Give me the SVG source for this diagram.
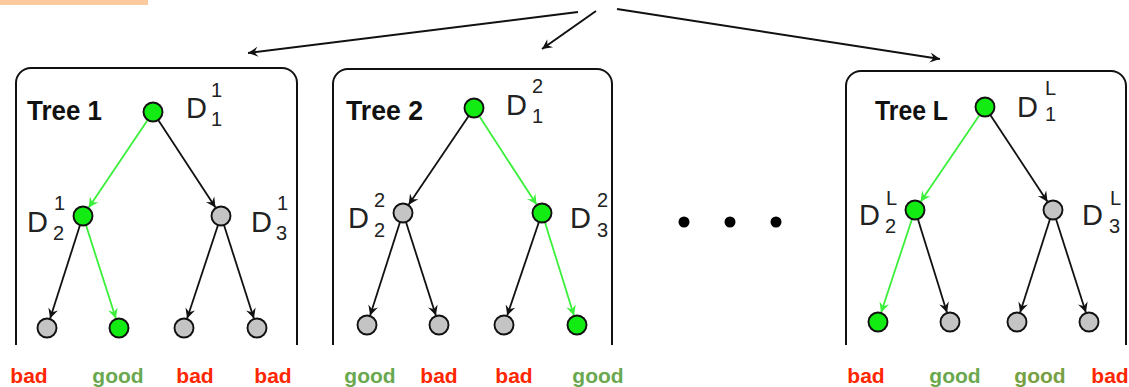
<svg xmlns="http://www.w3.org/2000/svg" width="1129" height="387" viewBox="0 0 1129 387">
  <style>
    .box { fill: none; stroke: #111; stroke-width: 2; }
    .node { stroke: #111; stroke-width: 1.9; }
    .on { fill: #12ec12; }
    .off { fill: #c4c4c4; }
    .edge { fill: none; stroke: #111; stroke-width: 1.8; marker-end: url(#arrowK); }
    .edge.hot { stroke: #3af03a; marker-end: url(#arrowG); }
    .top { fill: none; stroke: #111; stroke-width: 2; marker-end: url(#arrowK); }
    .title { font-family: "Liberation Sans", Arial, sans-serif; font-weight: bold; font-size: 27px; fill: #111; }
    .d { font-family: "Liberation Sans", Arial, sans-serif; font-size: 29px; fill: #222; }
    .s { font-family: "Liberation Sans", Arial, sans-serif; font-size: 20px; fill: #222; }
    .res { font-family: "Liberation Sans", Arial, sans-serif; font-weight: bold; font-size: 21px; text-anchor: middle; }
    .bad { fill: #ff2600; }
    .good { fill: #6aa84f; }
  </style>
  <defs>
    <marker id="arrowK" viewBox="-11 -6 12 12" refX="0" refY="0" markerWidth="12" markerHeight="12" markerUnits="userSpaceOnUse" orient="auto">
      <path d="M0,0 L-10,-5 L-6.5,0 L-10,5 Z" fill="#111"/>
    </marker>
    <marker id="arrowG" viewBox="-11 -6 12 12" refX="0" refY="0" markerWidth="12" markerHeight="12" markerUnits="userSpaceOnUse" orient="auto">
      <path d="M0,0 L-10,-5 L-6.5,0 L-10,5 Z" fill="#3af03a"/>
    </marker>
  </defs>

  <rect x="0" y="0" width="148" height="5" fill="#fdc99f"/>

  <!-- connectors -->
  <g id="connectors">
    <line class="top" x1="578" y1="12" x2="248" y2="53"/>
    <line class="top" x1="596" y1="11" x2="542" y2="49"/>
    <line class="top" x1="617" y1="9" x2="940" y2="59"/>

    <!-- tree 1 -->
    <line class="edge hot" x1="148" y1="119.5" x2="88.6" y2="207.7"/>
    <line class="edge" x1="157.9" y1="119.5" x2="215.5" y2="207.6"/>
    <line class="edge" x1="80.2" y1="224.6" x2="50.1" y2="318.5"/>
    <line class="edge hot" x1="85.8" y1="224.6" x2="115.9" y2="318.5"/>
    <line class="edge" x1="218.2" y1="224.5" x2="187.1" y2="318.5"/>
    <line class="edge" x1="223.8" y1="224.6" x2="253.9" y2="318.5"/>

    <!-- tree 2 -->
    <line class="edge" x1="469" y1="115.5" x2="408.6" y2="204.7"/>
    <line class="edge hot" x1="478.9" y1="115.6" x2="536.6" y2="204.6"/>
    <line class="edge" x1="400.2" y1="221.6" x2="370.1" y2="315.5"/>
    <line class="edge" x1="405.8" y1="221.6" x2="435.9" y2="315.5"/>
    <line class="edge" x1="539.1" y1="221.5" x2="507.2" y2="315.5"/>
    <line class="edge hot" x1="544.7" y1="221.6" x2="574" y2="315.5"/>

    <!-- tree L -->
    <line class="edge hot" x1="979.9" y1="114.4" x2="920.6" y2="201.7"/>
    <line class="edge" x1="990" y1="114.5" x2="1047.5" y2="201.7"/>
    <line class="edge hot" x1="912.2" y1="218.5" x2="881.1" y2="312.5"/>
    <line class="edge" x1="917.7" y1="218.6" x2="947" y2="312.5"/>
    <line class="edge" x1="1050.2" y1="218.6" x2="1020.1" y2="312.5"/>
    <line class="edge" x1="1055.8" y1="218.6" x2="1085.9" y2="312.5"/>
  </g>

  <!-- tree 1 -->
  <g id="tree1">
    <path class="box" d="M16,345 V83 A15,15 0 0 1 31,68 H282 A15,15 0 0 1 297,83 V345"/>
    <text class="title" x="27" y="120" textLength="75" lengthAdjust="spacingAndGlyphs">Tree 1</text>
  </g>
  <g id="t1-root">
    <circle class="node on" cx="153" cy="112" r="9.5"/>
    <text class="d" x="186" y="118">D</text><text class="s" x="211" y="97">1</text><text class="s" x="211" y="126">1</text>
  </g>
  <g id="t1-left">
    <circle class="node on" cx="83" cy="216" r="9.5"/>
    <text class="d" x="27" y="232">D</text><text class="s" x="54" y="210">1</text><text class="s" x="53" y="240">2</text>
  </g>
  <g id="t1-right">
    <circle class="node off" cx="221" cy="216" r="9.5"/>
    <text class="d" x="251" y="232">D</text><text class="s" x="277" y="210">1</text><text class="s" x="276" y="240">3</text>
  </g>
  <g id="t1-leaf1"><circle class="node off" cx="47" cy="328" r="9.5"/><text class="res bad" x="29" y="383">bad</text></g>
  <g id="t1-leaf2"><circle class="node on" cx="119" cy="328" r="9.5"/><text class="res good" x="118" y="383">good</text></g>
  <g id="t1-leaf3"><circle class="node off" cx="184" cy="328" r="9.5"/><text class="res bad" x="195" y="383">bad</text></g>
  <g id="t1-leaf4"><circle class="node off" cx="257" cy="328" r="9.5"/><text class="res bad" x="273" y="383">bad</text></g>

  <!-- tree 2 -->
  <g id="tree2">
    <path class="box" d="M333,345 V84 A15,15 0 0 1 348,69 H597 A15,15 0 0 1 612,84 V345"/>
    <text class="title" x="346" y="120" textLength="77" lengthAdjust="spacingAndGlyphs">Tree 2</text>
  </g>
  <g id="t2-root">
    <circle class="node on" cx="474" cy="108" r="9.5"/>
    <text class="d" x="506" y="115">D</text><text class="s" x="532" y="93">2</text><text class="s" x="532" y="123">1</text>
  </g>
  <g id="t2-left">
    <circle class="node off" cx="403" cy="213" r="9.5"/>
    <text class="d" x="348" y="228">D</text><text class="s" x="374" y="207">2</text><text class="s" x="374" y="237">2</text>
  </g>
  <g id="t2-right">
    <circle class="node on" cx="542" cy="213" r="9.5"/>
    <text class="d" x="570" y="228">D</text><text class="s" x="597" y="207">2</text><text class="s" x="597" y="237">3</text>
  </g>
  <g id="t2-leaf1"><circle class="node off" cx="367" cy="325" r="9.5"/><text class="res good" x="370" y="383">good</text></g>
  <g id="t2-leaf2"><circle class="node off" cx="439" cy="325" r="9.5"/><text class="res bad" x="439" y="383">bad</text></g>
  <g id="t2-leaf3"><circle class="node off" cx="504" cy="325" r="9.5"/><text class="res bad" x="514" y="383">bad</text></g>
  <g id="t2-leaf4"><circle class="node on" cx="577" cy="325" r="9.5"/><text class="res good" x="598" y="383">good</text></g>

  <!-- ellipsis between trees -->
  <g id="ellipsis" fill="#000">
    <circle cx="684" cy="222" r="5.5"/>
    <circle cx="730" cy="222" r="5.5"/>
    <circle cx="776" cy="222" r="5.5"/>
  </g>

  <!-- tree L -->
  <g id="treeL">
    <path class="box" d="M846,345 V86 A15,15 0 0 1 861,71 H1111 A15,15 0 0 1 1126,86 V345"/>
    <text class="title" x="875" y="120" textLength="73" lengthAdjust="spacingAndGlyphs">Tree L</text>
  </g>
  <g id="tL-root">
    <circle class="node on" cx="985" cy="107" r="9.5"/>
    <text class="d" x="1017" y="117">D</text><text class="s" x="1045" y="95">L</text><text class="s" x="1045" y="121">1</text>
  </g>
  <g id="tL-left">
    <circle class="node on" cx="915" cy="210" r="9.5"/>
    <text class="d" x="859" y="225">D</text><text class="s" x="886" y="205">L</text><text class="s" x="885" y="233">2</text>
  </g>
  <g id="tL-right">
    <circle class="node off" cx="1053" cy="210" r="9.5"/>
    <text class="d" x="1082" y="225">D</text><text class="s" x="1110" y="205">L</text><text class="s" x="1109" y="233">3</text>
  </g>
  <g id="tL-leaf1"><circle class="node on" cx="878" cy="322" r="9.5"/><text class="res bad" x="866" y="383">bad</text></g>
  <g id="tL-leaf2"><circle class="node off" cx="950" cy="322" r="9.5"/><text class="res good" x="955" y="383">good</text></g>
  <g id="tL-leaf3"><circle class="node off" cx="1017" cy="322" r="9.5"/><text class="res good" x="1040" y="383" style="fill:#77a043">good</text></g>
  <g id="tL-leaf4"><circle class="node off" cx="1089" cy="322" r="9.5"/><text class="res bad" x="1110" y="383">bad</text></g>
</svg>
